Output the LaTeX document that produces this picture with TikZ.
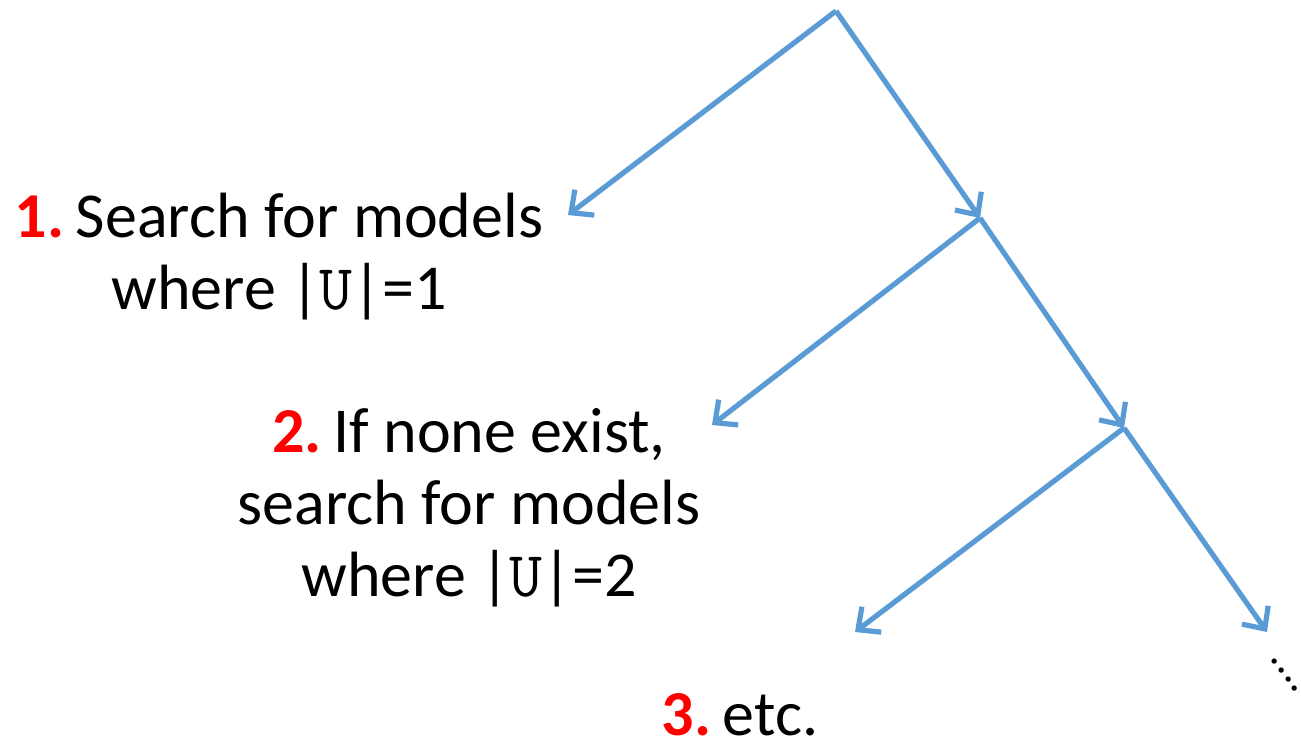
\documentclass[tikz,border=0pt]{standalone}
\usepackage{fontspec}
\setmainfont{Carlito}
\usetikzlibrary{arrows.meta}
\definecolor{branchblue}{RGB}{91,155,213}
\definecolor{stepred}{RGB}{255,0,0}
\newcommand{\stepnum}[1]{\textcolor{stepred}{\textbf{#1.}}\hspace{-0.12em}}
\newcommand{\univ}{{\ttfamily U}}

\begin{document}
\begin{tikzpicture}[
    x=0.5pt, y=-0.5pt,
    branch/.style={line width=2.6pt, draw=branchblue, -{Straight Barb[length=8.5pt,width=16pt]}},
    steptext/.style={align=center, inner sep=0pt, anchor=base, font=\fontsize{32}{36}\selectfont}
  ]
  \useasboundingbox (0,0) rectangle (1301,747);

  \coordinate (root) at (836,11);
  \coordinate (fork1) at (980,218);
  \coordinate (fork2) at (1124,428);
  \coordinate (leaf1) at (568,215);
  \coordinate (leaf2) at (712,425);
  \coordinate (leaf3) at (855,632);
  \coordinate (more) at (1267,632);

  \draw[branch] (root) -- (leaf1);
  \draw[branch] (root) -- (fork1);
  \draw[branch] (fork1) -- (leaf2);
  \draw[branch] (fork1) -- (fork2);
  \draw[branch] (fork2) -- (leaf3);
  \draw[branch] (fork2) -- (more);

  \node[steptext] (try1) at (279,310) {\stepnum{1} Search for models\\ where |\univ|=1};
  \node[steptext] (try2) at (469,597) {\stepnum{2} If none exist,\\ search for models\\ where |\univ|=2};
  \node[steptext] (try3) at (740,736) {\stepnum{3} etc.};
  \node[rotate=-53.5, inner sep=0pt, font=\fontsize{22}{22}\selectfont] (dots) at (1285,675) {....};
\end{tikzpicture}
\end{document}
